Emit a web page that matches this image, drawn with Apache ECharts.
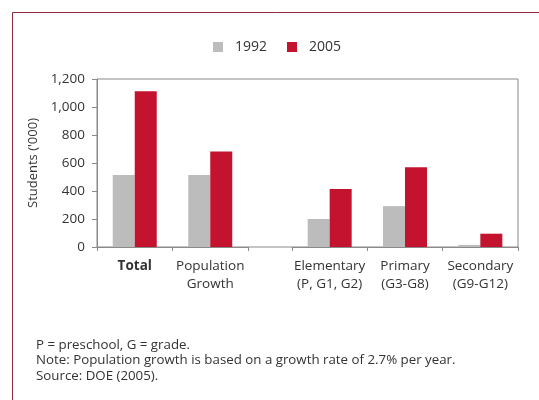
<!DOCTYPE html>
<html>
<head>
<meta charset="utf-8">
<script src="https://cdn.jsdelivr.net/npm/echarts@6/dist/echarts.min.js"></script>
<style>
  html, body { margin: 0; padding: 0; background: #ffffff; }
  #chart { width: 539px; height: 400px; }
</style>
</head>
<body>
<div id="chart"></div>
<script>
// Student counts (thousands), split into the summary block and the school-level block
const summaryCategories = ['Total', 'Population\nGrowth'];
const levelCategories = ['Elementary\n(P, G1, G2)', 'Primary\n(G3-G8)', 'Secondary\n(G9-G12)'];
const summary1992 = [515, 515];
const summary2005 = [1112, 682];
const level1992 = [200, 292, 15];
const level2005 = [415, 570, 95];
const yTicks = { min: 0, max: 1200, interval: 200 };
const seriesNames = ['1992', '2005'];
const footnoteLines = [
  'P = preschool, G = grade.',
  'Note: Population growth is based on a growth rate of 2.7% per year.',
  'Source: DOE (2005).'
];

const FONT = 'Open Sans';
const TEXT = '#333333';
const AXIS = '#8a8a8a';
const GRAY = '#bcbcbc';
const RED = '#c3132e';

const plotTop = 79, plotHeight = 168;

function catAxis(gridIndex, data) {
  return {
    type: 'category',
    gridIndex: gridIndex,
    data: data,
    axisLine: { show: true, lineStyle: { color: AXIS, width: 1 } },
    axisTick: { show: true, length: 4, interval: 0, lineStyle: { color: AXIS } },
    axisLabel: {
      interval: 0,
      color: TEXT,
      fontFamily: FONT,
      fontSize: 13.5,
      lineHeight: 18,
      margin: 10,
      formatter: function (v) { return v === 'Total' ? '{b|Total}' : v; },
      rich: { b: { fontWeight: 'bold', fontFamily: FONT, fontSize: 13.5, lineHeight: 18, color: TEXT } }
    }
  };
}

function valAxis(gridIndex, visible) {
  return {
    type: 'value',
    gridIndex: gridIndex,
    min: yTicks.min,
    max: yTicks.max,
    interval: yTicks.interval,
    show: visible,
    name: visible ? "Students ('000)" : '',
    nameLocation: 'middle',
    nameGap: 57,
    nameTextStyle: { color: TEXT, fontFamily: FONT, fontSize: 13 },
    axisLine: { show: true, lineStyle: { color: AXIS, width: 1 } },
    axisTick: { show: true, length: 5, lineStyle: { color: AXIS } },
    axisLabel: { color: TEXT, fontFamily: FONT, fontSize: 13.5, margin: 12 },
    splitLine: { show: false }
  };
}

function bars(name, color, axisIndex, data) {
  return {
    name: name,
    type: 'bar',
    xAxisIndex: axisIndex,
    yAxisIndex: axisIndex,
    data: data,
    barWidth: 22,
    barGap: '0%',
    itemStyle: { color: color },
    emphasis: { disabled: true }
  };
}

const chart = echarts.init(document.getElementById('chart'), null, { renderer: 'canvas' });
chart.setOption({
  animation: false,
  backgroundColor: '#ffffff',
  textStyle: { fontFamily: FONT },
  graphic: [{
    type: 'rect',
    shape: { x: 12.5, y: 12.5, width: 560, height: 420 },
    style: { fill: 'none', stroke: '#8e2a3c', lineWidth: 1 },
    silent: true
  }],
  title: {
    text: footnoteLines.join('\n'),
    left: 31,
    top: 332,
    textStyle: { color: TEXT, fontFamily: FONT, fontSize: 13.3, fontWeight: 'normal', lineHeight: 15.5 }
  },
  legend: {
    data: seriesNames,
    left: 208,
    top: 35,
    icon: 'rect',
    itemWidth: 10,
    itemHeight: 10,
    itemGap: 20,
    textStyle: { color: TEXT, fontFamily: FONT, fontSize: 14, padding: [0, 0, 0, 7] }
  },
  grid: [
    { left: 97, top: plotTop, width: 151, height: plotHeight, containLabel: false },
    { left: 292, top: plotTop, width: 226, height: plotHeight, containLabel: false },
    { left: 97, top: plotTop, width: 421, height: plotHeight, show: true,
      borderColor: AXIS, borderWidth: 1, backgroundColor: 'transparent' }
  ],
  xAxis: [
    catAxis(0, summaryCategories),
    catAxis(1, levelCategories),
    { type: 'category', gridIndex: 2, data: [''], show: false }
  ],
  yAxis: [
    valAxis(0, true),
    valAxis(1, false),
    { type: 'value', gridIndex: 2, min: 0, max: 1, show: false }
  ],
  series: [
    bars(seriesNames[0], GRAY, 0, summary1992),
    bars(seriesNames[1], RED, 0, summary2005),
    bars(seriesNames[0], GRAY, 1, level1992),
    bars(seriesNames[1], RED, 1, level2005)
  ]
});
</script>
</body>
</html>
